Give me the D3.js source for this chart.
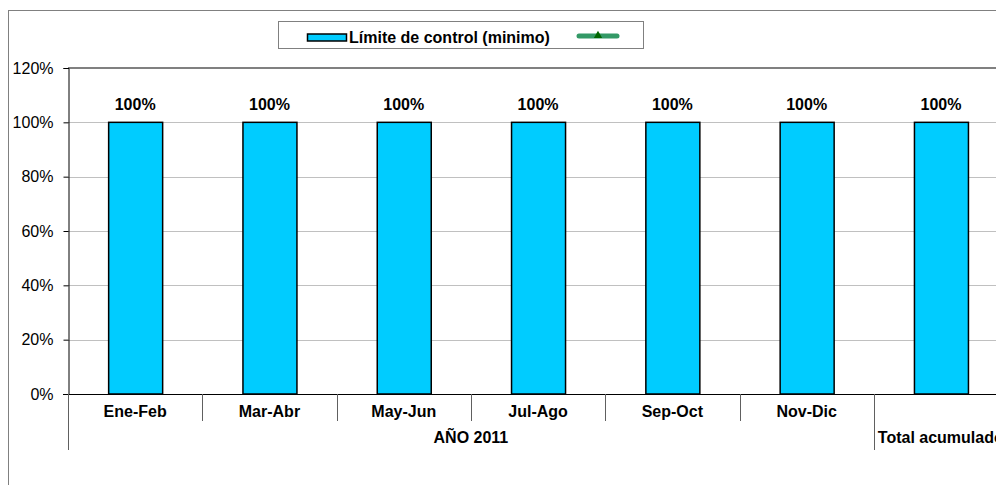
<!DOCTYPE html>
<html><head><meta charset="utf-8">
<script src="https://cdn.jsdelivr.net/npm/d3@7"></script>
<style>body{margin:0;background:#fff}svg{display:block;font-family:"Liberation Sans",Arial,sans-serif}</style>
</head><body><svg id="c" width="996" height="485"></svg>
<script>
const categories = ["Ene-Feb","Mar-Abr","May-Jun","Jul-Ago","Sep-Oct","Nov-Dic","Total"];
const groupLabels = ["AÑO 2011","Total acumulado"];
const groupSpans = [6,1];
const values = [1,1,1,1,1,1,1];
const yTicks = [0,0.2,0.4,0.6,0.8,1.0,1.2];
const seriesName = "Límite de control (minimo)";

const svg = d3.select("#c");
const L = 68, T = 68, B = 394, step = 134.3;
const FS = 16;
const x = d3.scaleBand().domain(categories).range([L, L + step*categories.length]).paddingInner(0).paddingOuter(0);
const y = d3.scaleLinear().domain([0,1.2]).range([B, T]);

// outer border
svg.append("rect").attr("x",8.5).attr("y",10.5).attr("width",1100).attr("height",1000)
  .attr("fill","none").attr("stroke","#808080").attr("stroke-width",1);

// gridlines
svg.append("g").selectAll("line").data(yTicks.filter(d=>d>0 && d<1.2)).join("line")
  .attr("x1",L).attr("x2",1000).attr("y1",d=>Math.round(y(d))+0.5).attr("y2",d=>Math.round(y(d))+0.5)
  .attr("stroke","#c0c0c0").attr("stroke-width",1);
// plot top border
svg.append("line").attr("x1",L).attr("x2",1000).attr("y1",y(1.2)).attr("y2",y(1.2))
  .attr("stroke","#808080").attr("stroke-width",2);

// y axis
const yAxis = d3.axisLeft(y).tickValues(yTicks).tickFormat(d3.format(".0%")).tickSize(5).tickPadding(10);
const ya = svg.append("g").attr("transform",`translate(${L+0.5},0)`).call(yAxis);
ya.select(".domain").attr("stroke","#000");
ya.selectAll(".tick line").attr("stroke","#000");
ya.selectAll("text").attr("font-size",FS).attr("fill","#000").attr("font-family","Liberation Sans, Arial");

// bars
const bw = 54;
svg.append("g").selectAll("rect").data(values).join("rect")
  .attr("x",(d,i)=>x(categories[i]) + x.bandwidth()/2 - bw/2 + 0.5)
  .attr("y",d=>y(d))
  .attr("width",bw).attr("height",d=>y(0)-y(d))
  .attr("fill","#00ccff").attr("stroke","#000").attr("stroke-width",1.5);

// value labels
svg.append("g").selectAll("text").data(values).join("text")
  .attr("x",(d,i)=>x(categories[i]) + x.bandwidth()/2)
  .attr("y",d=>y(d)-12)
  .attr("text-anchor","middle").attr("font-size",FS).attr("font-weight","bold")
  .text(d=>d3.format(".0%")(d));

// x axis baseline
svg.append("line").attr("x1",L-5).attr("x2",1000).attr("y1",B+0.5).attr("y2",B+0.5)
  .attr("stroke","#000").attr("stroke-width",1.2);

// category separators
const sepX = d3.range(categories.length+1).map(i => L + i*step);
let groupEdges = [0]; groupSpans.reduce((a,s)=>{groupEdges.push(a+s); return a+s;},0);
svg.append("g").selectAll("line").data(sepX).join("line")
  .attr("x1",d=>Math.round(d)+0.5).attr("x2",d=>Math.round(d)+0.5)
  .attr("y1",B).attr("y2",(d,i)=>groupEdges.includes(i)?450:421)
  .attr("stroke","#606060").attr("stroke-width",1);

// category labels
svg.append("g").selectAll("text").data(categories.slice(0,6)).join("text")
  .attr("x",d=>x(d)+x.bandwidth()/2).attr("y",417)
  .attr("text-anchor","middle").attr("font-size",FS).attr("font-weight","bold").text(d=>d);

// group labels
svg.append("text").attr("x",(x(categories[0]) + x(categories[5])+x.bandwidth())/2).attr("y",443)
  .attr("text-anchor","middle").attr("font-size",FS).attr("font-weight","bold").text(groupLabels[0]);
svg.append("text").attr("x",x(categories[6])+4).attr("y",443)
  .attr("text-anchor","start").attr("font-size",FS).attr("font-weight","bold").text(groupLabels[1]);

// legend
const lg = svg.append("g");
lg.append("rect").attr("x",278.5).attr("y",21.5).attr("width",365).attr("height",27)
  .attr("fill","#fff").attr("stroke","#808080");
lg.append("rect").attr("x",307.5).attr("y",34).attr("width",39).attr("height",7)
  .attr("fill","#00ccff").attr("stroke","#000").attr("stroke-width",1.5);
lg.append("text").attr("x",349).attr("y",43).attr("font-size",FS).attr("font-weight","bold").text(seriesName);
lg.append("line").attr("x1",579).attr("x2",617).attr("y1",36).attr("y2",36)
  .attr("stroke","#339966").attr("stroke-width",5).attr("stroke-linecap","round");
lg.append("path").attr("d",d3.symbol(d3.symbolTriangle,30)()).attr("transform","translate(598,35.5)")
  .attr("fill","#006600");
</script></body></html>
